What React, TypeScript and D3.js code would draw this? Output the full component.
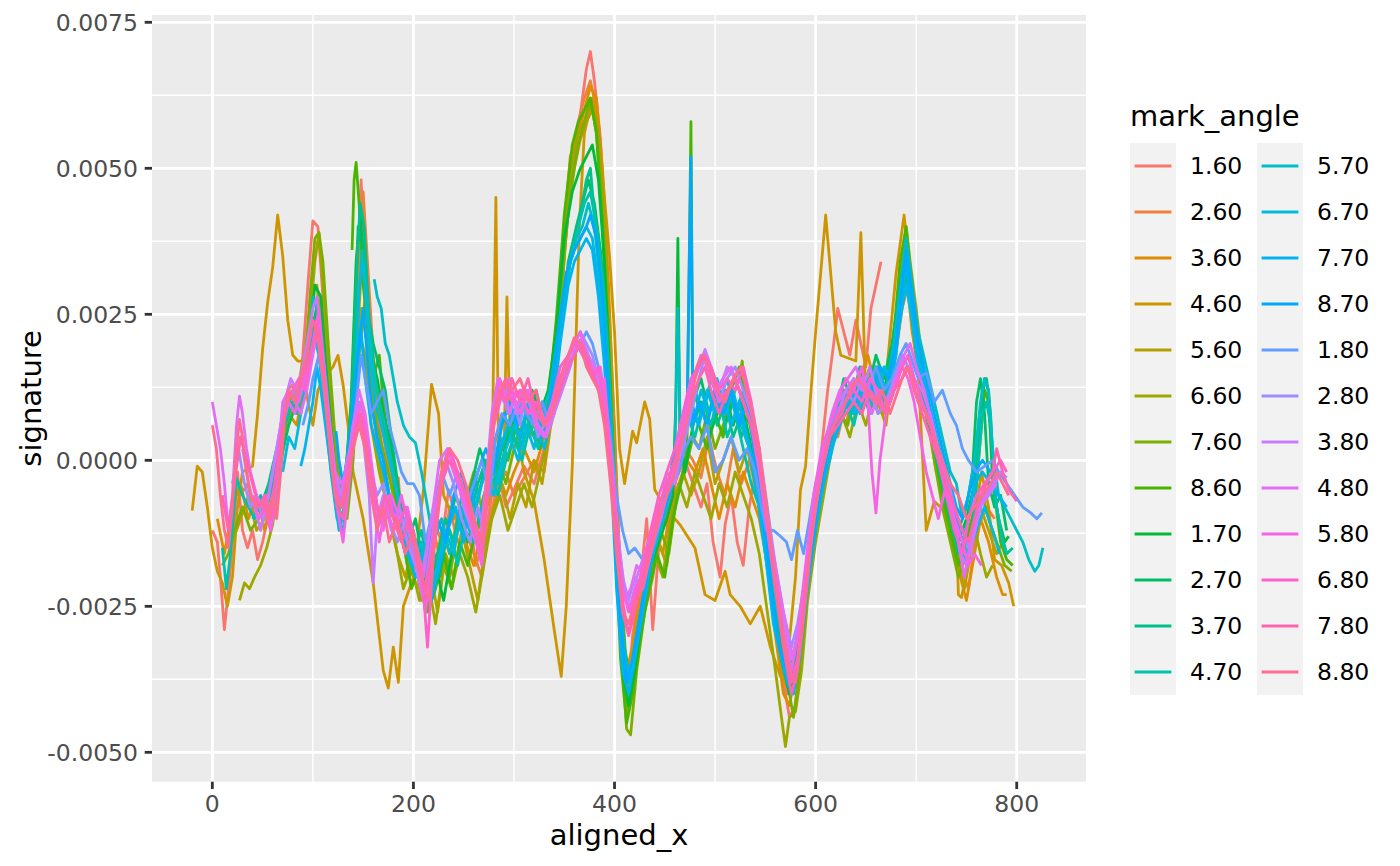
import React from 'react';
import * as d3 from 'd3';

// signature values are in units of 1e-4, stored flat as [x, v, x, v, ...]
const s160 = [0,-12, 5,-14, 8,-20, 12,-29, 16,-22, 20,-15, 25,-2, 30,-12, 35,-15, 40,-12, 45,-17, 50,-14, 55,-10, 60,-8, 65,-2, 70,6, 75,12, 80,13, 85,10, 90,18, 95,30, 100,41, 105,40, 110,28, 115,16, 120,4, 125,-8, 130,-5, 135,2, 140,10, 145,35, 148,48, 152,30, 158,12, 165,8, 170,0, 178,-8, 185,-3, 190,-15, 198,-12, 205,-20, 212,-18, 220,-10, 228,-14, 235,-5, 245,-12, 255,-8, 262,-18, 270,-14, 278,-6, 285,-3, 292,-8, 300,-5, 310,-1, 320,-4, 330,2, 340,8, 350,35, 358,50, 365,58, 372,67, 376,70, 380,65, 386,55, 392,35, 398,8, 403,-15, 408,-35, 412,-42, 418,-30, 425,-22, 432,-10, 438,-29, 444,-15, 450,-10, 458,-5, 464,-2, 470,0, 478,-4, 486,-8, 492,-4, 498,-14, 505,-20, 510,-11, 516,-6, 522,-14, 528,-18, 534,-8, 540,-2, 548,-8, 555,-20, 562,-30, 568,-38, 574,-44, 580,-42, 586,-30, 592,-18, 600,-8, 606,2, 612,12, 618,20, 622,26, 628,22, 634,18, 640,24, 645,20, 650,16, 655,26, 660,30, 665,34];
const s260 = [28,-6, 35,-4, 42,-9, 50,-7, 58,-5, 65,0, 72,8, 80,10, 88,12, 95,16, 100,22, 105,28, 110,20, 116,10, 122,0, 128,-5, 135,0, 142,15, 147,42, 150,46, 155,32, 160,18, 166,10, 172,2, 180,-6, 188,-10, 196,-16, 204,-14, 212,-22, 220,-12, 228,-18, 236,-8, 244,-14, 252,-12, 260,-16, 268,-20, 276,-10, 284,-4, 292,-2, 300,-6, 310,-3, 320,0, 330,-2, 340,10, 348,30, 356,48, 364,58, 370,62, 376,65, 382,60, 388,48, 394,28, 400,6, 405,-18, 410,-34, 416,-40, 422,-28, 430,-20, 438,-14, 446,-8, 454,-12, 462,-2, 470,2, 478,0, 486,-3, 494,4, 502,-2, 510,-6, 518,2, 526,-4, 534,0, 542,-6, 550,-14, 558,-26, 566,-34, 572,-40, 578,-36, 584,-28, 590,-20, 598,-8, 606,0, 614,6, 622,4, 630,10, 638,14, 646,12, 654,16, 662,8, 670,10, 678,16, 686,26, 692,30, 698,20, 704,12, 712,6, 720,-2, 728,-6, 736,-12, 744,-18, 752,-22, 760,-12, 770,-8, 778,-10];
const s360 = [5,-10, 12,-16, 20,-8, 28,-4, 36,-10, 44,-6, 52,-12, 60,-6, 68,2, 76,8, 84,6, 92,14, 100,24, 106,20, 112,10, 120,-2, 128,-8, 136,-4, 144,20, 150,38, 156,22, 164,10, 172,4, 180,-4, 188,-12, 196,-18, 204,-22, 212,-16, 220,-20, 228,-12, 236,-16, 244,-10, 252,-14, 260,-18, 268,-12, 276,-6, 284,-2, 292,-6, 300,-2, 310,2, 320,-2, 330,4, 340,12, 348,36, 356,52, 364,56, 370,60, 376,64, 382,62, 388,50, 394,30, 400,4, 406,-20, 412,-36, 418,-32, 424,-24, 432,-18, 440,-12, 448,-16, 456,-8, 464,-4, 472,0, 480,-2, 488,2, 496,-4, 504,-10, 512,-4, 520,-8, 528,-2, 536,-6, 544,-10, 552,-18, 560,-30, 568,-40, 574,-42, 580,-36, 588,-24, 596,-12, 604,-2, 612,4, 620,8, 628,12, 636,10, 644,14, 652,18, 660,12, 668,8, 676,14, 684,24, 690,32, 696,22, 704,14, 712,8, 720,2, 728,-6, 736,-14, 744,-20, 750,-24, 756,-18, 764,-10, 772,-14, 780,-20, 786,-23, 790,-23];
const s460 = [-20,-8.6, -15,-1, -10,-2, -5,-8, 0,-15, 5,-19, 10,-21, 15,-25, 20,-20, 25,-8, 30,-2, 40,-1, 45,8, 50,19, 55,27, 60,33, 65,42, 70,35, 75,24, 80,18, 85,17, 90,17, 95,10, 100,6, 105,12, 110,14, 120,16, 125,18, 130,13, 135,6, 140,-2, 150,-10, 160,-21, 170,-36, 175,-39, 180,-32, 185,-38, 190,-25, 200,-20, 210,-5, 218,13, 225,8, 230,-6, 240,-10, 250,-8, 260,-2, 270,-10, 278,-3, 282,45, 285,-5, 290,0, 293,28, 296,5, 300,7, 310,-2, 320,-7, 330,-17, 340,-29, 347,-37, 352,-25, 358,-1, 365,40, 370,56, 378,62, 385,55, 395,35, 400,22, 405,2, 410,-4, 418,5, 422,3, 430,10, 435,7, 440,-5, 450,-8, 465,-11, 480,-15, 490,-23, 500,-24, 510,-19, 515,-23, 525,-25, 535,-28, 545,-25, 555,-32, 565,-37, 570,-38, 580,-20, 585,-5, 590,-1, 595,11, 600,22, 610,42, 620,22, 625,18, 640,17, 645,39, 650,10, 660,14, 670,14, 680,32, 688,42, 695,30, 700,22, 710,-12, 718,-7, 730,-9, 740,-12, 742,-23, 745,-23.5, 752,-17.7, 758,-10, 765,-2, 772,-8, 778,-17, 785,-18, 792,-21, 797,-25];
const s560 = [20,-14, 28,-10, 36,-6, 44,-12, 52,-10, 60,-4, 68,4, 76,10, 84,12, 92,18, 98,28, 104,30, 110,20, 118,6, 126,-6, 134,-2, 142,12, 148,26, 154,20, 160,8, 168,-2, 176,-10, 184,-16, 192,-20, 200,-14, 208,-24, 216,-18, 224,-26, 232,-16, 240,-20, 248,-12, 256,-18, 264,-24, 272,-14, 280,-8, 288,-4, 296,-10, 304,-4, 312,-8, 320,0, 328,-4, 336,6, 344,20, 352,40, 360,50, 366,55, 372,58, 378,60, 384,56, 390,40, 396,18, 402,-8, 408,-30, 414,-40, 420,-34, 428,-26, 436,-20, 444,-14, 452,-18, 460,-8, 468,-2, 476,-6, 484,-2, 492,4, 500,-4, 508,0, 516,4, 524,-2, 532,2, 540,-4, 548,-12, 556,-22, 564,-32, 570,-38, 576,-40, 582,-32, 590,-20, 598,-10, 606,-4, 614,4, 622,10, 630,6, 638,12, 646,8, 654,14, 662,10, 670,6, 678,18, 684,30, 690,40, 694,34, 700,26, 708,14, 716,6, 724,-2, 732,-10, 740,-16, 748,-22, 756,-14, 764,-8, 772,-12, 780,-16, 786,-14];
const s660 = [27,-24, 32,-21, 37,-22, 42,-20, 48,-18, 54,-15, 60,-11, 66,-4, 72,4, 78,8, 84,10, 90,14, 96,22, 102,34, 106,39, 110,30, 116,16, 122,2, 128,-8, 134,-4, 140,6, 146,22, 152,18, 158,6, 166,-2, 174,-8, 182,-14, 190,-22, 198,-18, 206,-24, 214,-20, 222,-28, 230,-18, 238,-22, 246,-16, 254,-20, 262,-26, 270,-18, 278,-10, 286,-6, 294,-12, 302,-8, 310,-4, 318,-8, 326,-2, 334,4, 342,18, 350,36, 358,50, 364,56, 370,58, 376,61, 382,58, 388,46, 394,24, 400,-2, 406,-28, 412,-44, 418,-38, 424,-28, 432,-22, 440,-16, 448,-20, 456,-10, 464,-4, 472,-8, 480,-2, 488,-6, 496,-10, 504,-4, 512,-8, 520,-2, 528,-6, 536,-10, 544,-16, 552,-26, 560,-36, 566,-44, 570,-49, 574,-44, 580,-43, 586,-36, 592,-24, 600,-14, 606,-8, 612,-2, 618,4, 626,8, 634,4, 642,10, 650,6, 658,12, 666,8, 674,14, 682,26, 688,36, 694,30, 700,22, 708,12, 716,4, 724,-4, 732,-12, 740,-18, 748,-14, 756,-10, 764,-16, 770,-20, 776,-18];
const s760 = [10,-18, 16,-16, 22,-12, 30,-8, 38,-12, 46,-10, 54,-6, 62,0, 70,6, 78,10, 86,8, 92,16, 98,30, 102,38, 106,39, 110,34, 116,18, 122,4, 128,-6, 134,-10, 140,0, 146,18, 152,28, 158,14, 164,6, 172,0, 180,-6, 188,-12, 196,-20, 204,-16, 212,-26, 220,-22, 228,-14, 236,-20, 244,-12, 252,-8, 260,-14, 268,-10, 276,-4, 284,0, 292,-4, 300,2, 308,6, 316,4, 324,10, 332,6, 340,14, 348,32, 356,46, 364,54, 370,58, 376,62, 382,56, 388,42, 394,20, 400,-6, 406,-30, 412,-46, 416,-47, 422,-36, 430,-26, 438,-20, 446,-12, 454,-16, 462,-6, 470,-2, 478,4, 484,2, 492,8, 500,2, 508,6, 516,10, 524,14, 527,17, 532,8, 540,2, 548,-8, 556,-20, 564,-30, 572,-38, 578,-44, 584,-36, 592,-22, 600,-10, 608,-4, 616,2, 624,8, 632,6, 640,12, 648,10, 656,16, 664,12, 672,10, 680,20, 686,32, 690,38, 696,28, 702,18, 710,10, 718,0, 726,-8, 734,-14, 742,-20, 750,-16, 758,-12, 766,-6, 772,-10, 780,-14, 788,-18, 795,-19];
const s860 = [139,36, 141,48, 143,51, 146,44, 150,30, 155,22, 160,14, 166,18, 170,10, 176,2, 182,-6, 190,-14, 198,-22, 206,-18, 214,-26, 222,-22, 230,-16, 238,-22, 246,-14, 254,-18, 262,-12, 270,-6, 278,-2, 286,4, 294,0, 302,6, 310,4, 318,8, 326,2, 334,10, 342,24, 350,42, 358,54, 364,58, 370,60, 376,62, 382,56, 388,40, 394,16, 400,-10, 406,-34, 412,-45, 418,-40, 426,-30, 434,-22, 442,-16, 450,-20, 458,-10, 466,-4, 472,2, 474,30, 476,58, 478,8, 484,6, 492,2, 500,8, 508,4, 516,12, 524,16, 530,10, 538,4, 546,-6, 554,-18, 562,-28, 570,-36, 576,-40, 582,-34, 590,-22, 598,-12, 606,-4, 614,4, 622,6, 630,10, 638,8, 646,14, 654,12, 662,16, 670,10, 678,22, 684,34, 690,40, 696,30, 702,20, 710,12, 718,2, 726,-6, 734,-12, 742,-18, 750,-14, 758,-8, 764,4, 768,12, 772,10, 778,-6, 784,-14, 790,-17, 796,-18];
const s170 = [80,8, 88,12, 96,20, 102,30, 108,28, 114,14, 120,2, 126,-8, 132,-4, 138,10, 143,34, 147,42, 152,30, 158,18, 164,14, 170,8, 176,4, 182,-4, 190,-12, 198,-18, 206,-14, 214,-22, 222,-18, 230,-24, 238,-16, 246,-10, 254,-14, 262,-8, 270,-2, 278,2, 286,-2, 294,4, 302,8, 310,6, 318,12, 326,8, 334,12, 342,22, 350,38, 358,46, 366,50, 372,52, 378,54, 384,48, 390,34, 396,12, 402,-14, 408,-36, 414,-42, 420,-36, 428,-26, 436,-18, 444,-14, 452,-10, 458,-6, 461,10, 463,38, 465,4, 470,-2, 478,6, 486,10, 494,4, 502,8, 510,12, 518,6, 526,10, 534,4, 542,-4, 550,-14, 558,-26, 566,-34, 574,-40, 580,-36, 588,-24, 596,-14, 604,-6, 612,2, 620,6, 628,12, 636,10, 644,14, 652,10, 660,16, 668,12, 676,18, 684,28, 690,34, 696,26, 702,16, 710,10, 718,2, 726,-4, 734,-10, 742,-14, 750,-10, 758,-4, 764,8, 768,14, 772,12, 776,-4, 782,-10, 788,-14, 792,-13];
const s270 = [60,-6, 68,0, 76,6, 84,10, 92,14, 98,22, 104,26, 110,20, 116,8, 122,-2, 128,-6, 134,0, 140,14, 145,40, 149,38, 154,26, 160,20, 166,16, 172,12, 178,4, 186,-6, 194,-14, 202,-10, 210,-18, 218,-14, 226,-20, 234,-12, 242,-6, 250,-10, 258,-4, 266,2, 274,-2, 282,4, 290,8, 298,4, 306,10, 314,8, 322,12, 330,6, 338,10, 346,22, 354,34, 362,40, 368,44, 374,48, 380,44, 386,36, 392,24, 398,4, 404,-18, 410,-34, 416,-38, 422,-30, 430,-22, 438,-16, 446,-10, 454,-6, 462,-2, 470,4, 478,10, 486,14, 494,8, 502,12, 510,6, 518,10, 526,4, 534,8, 542,0, 550,-10, 558,-22, 566,-30, 574,-36, 580,-32, 588,-22, 596,-12, 604,-4, 612,4, 620,8, 628,14, 636,10, 644,16, 652,12, 660,18, 668,14, 676,20, 684,30, 690,36, 696,28, 702,18, 710,12, 718,4, 726,-2, 734,-8, 742,-12, 750,-8, 756,-2, 760,10, 764,14, 768,8, 772,-4, 778,-8, 784,-6, 790,-12];
const s370 = [40,-10, 48,-8, 56,-4, 64,2, 72,6, 80,10, 88,12, 96,18, 102,24, 108,22, 114,12, 120,0, 126,-8, 132,-4, 138,8, 143,30, 147,44, 151,40, 156,24, 162,14, 168,8, 176,2, 184,-6, 192,-12, 200,-16, 208,-12, 216,-20, 224,-16, 232,-10, 240,-14, 248,-6, 256,-10, 264,-4, 272,0, 280,-4, 288,2, 296,6, 304,2, 312,8, 320,4, 328,10, 336,6, 344,18, 352,30, 360,38, 366,42, 372,48, 376,50, 380,42, 386,34, 392,22, 398,4, 404,-16, 410,-32, 416,-38, 422,-32, 430,-24, 438,-16, 446,-12, 454,-6, 462,0, 470,6, 478,12, 486,8, 494,12, 502,6, 510,10, 518,4, 526,8, 534,2, 542,-6, 550,-16, 558,-26, 566,-34, 574,-38, 580,-34, 588,-24, 596,-14, 604,-6, 612,2, 620,6, 628,10, 636,8, 644,12, 652,10, 660,14, 668,10, 676,16, 684,26, 690,32, 696,24, 702,16, 710,8, 718,2, 726,-4, 734,-10, 742,-16, 750,-12, 756,-6, 762,6, 766,12, 770,14, 774,8, 778,-6, 784,-12, 790,-16, 796,-15];
const s470 = [10,-15, 14,-22, 18,-16, 24,-3, 30,-6, 36,-8, 42,-10, 48,-6, 54,-8, 60,-4, 66,2, 72,6, 78,10, 84,8, 90,14, 96,20, 100,28, 104,26, 110,16, 116,6, 122,-4, 128,-10, 134,-6, 140,6, 145,26, 149,36, 154,28, 160,16, 166,10, 172,6, 180,-2, 188,-10, 196,-14, 204,-18, 212,-14, 220,-22, 228,-16, 236,-12, 244,-18, 252,-10, 260,-14, 268,-8, 276,-2, 284,-6, 292,0, 300,4, 308,0, 316,6, 324,2, 332,8, 340,12, 348,24, 356,34, 364,40, 370,44, 376,46, 382,40, 388,32, 394,16, 400,-4, 406,-26, 412,-38, 418,-36, 424,-28, 432,-20, 440,-14, 448,-10, 456,-4, 464,2, 472,8, 480,4, 488,10, 496,6, 504,12, 512,4, 520,8, 528,2, 536,-4, 544,-8, 552,-18, 560,-28, 568,-36, 576,-40, 582,-36, 590,-24, 598,-12, 606,-4, 614,0, 622,6, 630,10, 638,6, 646,12, 654,8, 662,14, 670,10, 678,18, 686,30, 690,36, 696,28, 702,18, 710,10, 718,4, 726,-2, 734,-8, 742,-14, 750,-18, 756,-12, 762,0, 766,8, 770,10, 774,6, 780,-8, 786,-14, 790,-16];
const s570 = [161,31, 164,28, 168,26, 172,20, 176,18, 180,14, 184,10, 190,6, 196,4, 202,3, 208,-2, 214,-8, 220,-14, 228,-10, 236,-16, 244,-12, 252,-6, 260,-10, 268,-4, 276,0, 284,-4, 292,2, 300,6, 308,2, 316,8, 324,4, 332,10, 340,14, 348,26, 356,34, 362,38, 368,40, 374,44, 380,40, 386,30, 392,16, 398,0, 404,-20, 410,-34, 416,-36, 422,-30, 430,-22, 438,-14, 446,-8, 454,-4, 460,2, 463,26, 466,0, 472,6, 480,12, 488,8, 496,14, 504,10, 512,14, 520,8, 528,12, 536,6, 544,0, 552,-12, 560,-24, 568,-32, 576,-36, 582,-30, 590,-20, 598,-10, 606,-4, 614,4, 622,8, 630,12, 638,8, 646,14, 654,10, 662,16, 670,12, 678,20, 686,32, 690,38, 696,30, 702,22, 710,16, 718,10, 726,4, 734,-2, 740,-4, 746,-10, 752,-6, 758,0, 764,10, 768,14, 772,12, 776,2, 782,-6, 788,-8, 794,-10, 800,-12, 806,-14, 812,-17, 818,-19, 822,-18, 826,-15];
const s670 = [70,-2, 76,4, 82,2, 88,8, 94,14, 100,22, 106,18, 112,8, 118,-2, 124,-10, 130,-12, 136,-4, 142,10, 146,30, 150,34, 156,20, 162,10, 168,6, 176,0, 184,-6, 192,-14, 200,-18, 208,-14, 216,-22, 224,-18, 232,-12, 240,-16, 248,-8, 256,-12, 264,-6, 272,-2, 280,-6, 288,0, 296,4, 304,0, 312,6, 320,2, 328,8, 336,12, 344,22, 352,32, 360,36, 366,38, 372,40, 378,38, 384,30, 390,18, 396,2, 402,-18, 408,-32, 414,-38, 420,-32, 428,-24, 436,-16, 444,-10, 452,-6, 460,-2, 466,4, 472,10, 478,6, 486,12, 494,8, 502,14, 510,8, 518,12, 526,6, 534,2, 542,-6, 550,-16, 558,-28, 566,-34, 574,-36, 580,-32, 588,-22, 596,-12, 604,-4, 612,2, 620,6, 628,10, 636,12, 644,8, 652,14, 660,10, 668,16, 676,14, 684,24, 690,30, 696,24, 702,16, 710,10, 718,4, 726,-2, 734,-8, 740,-12, 746,-14, 752,-16, 760,-12, 768,-8, 776,-12, 783,-16];
const s770 = [88,-1, 92,2, 96,6, 100,10, 104,16, 108,12, 114,4, 120,-4, 126,-12, 132,-8, 138,0, 144,16, 148,22, 152,14, 158,6, 164,2, 170,-2, 178,-8, 186,-12, 194,-16, 202,-20, 210,-16, 218,-24, 226,-18, 234,-12, 242,-8, 250,-14, 258,-6, 266,-10, 274,-4, 282,0, 290,4, 298,8, 306,4, 314,10, 322,6, 330,2, 338,8, 346,20, 354,30, 360,34, 366,36, 372,38, 378,36, 384,28, 390,16, 396,0, 402,-22, 408,-36, 414,-40, 420,-34, 428,-26, 436,-18, 444,-12, 452,-8, 460,-2, 468,4, 476,10, 484,6, 492,12, 500,8, 508,12, 516,6, 524,10, 532,4, 540,-2, 548,-12, 556,-24, 564,-32, 572,-38, 578,-40, 584,-34, 592,-22, 600,-12, 608,-4, 616,2, 624,6, 632,10, 640,8, 648,12, 656,10, 664,14, 672,12, 680,18, 686,28, 690,34, 696,26, 702,18, 710,12, 718,6, 726,0, 734,-6, 740,-10, 746,-14, 752,-10, 758,-4, 766,-2, 774,-4, 782,-6, 790,-8];
const s870 = [123,5, 126,0, 130,-4, 134,0, 138,6, 142,14, 146,20, 150,26, 154,18, 158,10, 164,4, 170,0, 176,-6, 184,-10, 192,-16, 200,-12, 208,-20, 216,-14, 224,-10, 232,-14, 240,-6, 248,-2, 256,-8, 264,-2, 272,2, 280,-2, 288,6, 296,10, 304,6, 312,12, 320,8, 328,4, 336,10, 344,22, 352,32, 360,36, 366,38, 372,40, 376,42, 382,38, 388,28, 394,12, 400,-8, 406,-28, 412,-38, 418,-34, 426,-26, 434,-18, 442,-12, 450,-8, 458,-4, 466,2, 472,6, 474,30, 476,52, 478,6, 484,10, 492,6, 500,12, 508,8, 516,12, 524,6, 532,10, 540,0, 548,-10, 556,-22, 564,-32, 572,-36, 578,-38, 584,-32, 592,-20, 600,-10, 608,-2, 616,4, 624,8, 632,12, 640,10, 648,14, 656,12, 664,16, 672,14, 680,20, 686,30, 690,36, 696,28, 702,20, 710,14, 718,8, 726,2, 734,-4, 740,-8, 746,-10, 752,-6, 758,-2, 766,0, 774,-2, 780,-4];
const s180 = [90,6, 96,10, 100,14, 106,18, 112,12, 118,4, 124,-4, 130,-8, 136,-2, 142,8, 148,18, 152,14, 158,8, 164,10, 170,12, 176,6, 182,2, 188,-2, 194,-4, 200,-4, 206,-6, 212,-14, 220,-8, 228,-2, 236,-6, 244,-2, 252,-8, 260,-4, 268,0, 276,-6, 282,4, 288,8, 296,6, 304,10, 312,8, 320,6, 328,10, 336,6, 344,12, 352,16, 360,18, 366,20, 372,22, 378,20, 384,16, 390,12, 396,4, 402,-6, 408,-12, 414,-16, 420,-15, 428,-17, 434,-17, 440,-14, 446,-10, 452,-6, 458,-4, 464,-2, 470,2, 476,4, 484,2, 492,6, 500,-2, 508,0, 516,4, 524,0, 532,2, 540,-2, 546,-8, 551,-12, 558,-12, 565,-13, 571,-14, 576,-17, 582,-12, 588,-16, 594,-10, 600,-4, 606,0, 612,4, 620,8, 628,10, 636,12, 644,14, 652,12, 660,16, 668,12, 676,14, 684,18, 690,20, 696,17, 702,14, 710,15, 718,10, 726,12, 734,8, 740,6, 746,2, 752,0, 760,-2, 768,-1, 776,0, 782,-2, 790,-4, 798,-6, 806,-8, 814,-9, 820,-10, 825,-9];
const s280 = [20,-4, 26,2, 32,-4, 38,-8, 44,-6, 50,-10, 56,-6, 62,0, 68,6, 74,10, 80,12, 86,10, 92,14, 98,18, 104,22, 110,14, 116,4, 122,-4, 128,-8, 134,-2, 140,6, 146,10, 152,6, 158,-2, 164,-6, 170,-4, 176,-10, 184,-14, 192,-10, 200,-16, 208,-20, 216,-12, 224,-6, 232,0, 240,-4, 248,-10, 256,-14, 264,-8, 270,-12, 276,2, 282,10, 288,12, 294,8, 300,10, 306,6, 312,12, 318,8, 324,4, 330,6, 338,10, 346,14, 354,18, 360,20, 366,22, 372,20, 378,18, 384,14, 390,10, 396,2, 402,-10, 408,-20, 414,-24, 420,-20, 428,-22, 436,-16, 444,-10, 452,-6, 460,-2, 468,2, 476,8, 484,14, 490,18, 496,14, 504,10, 512,14, 520,16, 528,12, 536,8, 544,2, 552,-8, 560,-18, 568,-26, 576,-32, 582,-28, 590,-20, 598,-8, 606,0, 614,6, 622,10, 630,12, 638,10, 646,14, 654,12, 662,8, 670,10, 678,14, 686,18, 692,16, 698,12, 706,10, 714,6, 722,2, 730,-2, 738,-8, 746,-12, 754,-16, 760,-10, 768,-6, 776,-4, 784,-2, 790,-3];
const s380 = [30,2, 36,-4, 42,-8, 48,-12, 54,-8, 60,-2, 66,4, 72,10, 78,14, 84,12, 90,16, 96,22, 100,26, 104,28, 110,18, 116,8, 122,-2, 128,-6, 134,0, 140,4, 146,8, 150,4, 156,-6, 160,-21, 164,-10, 170,-6, 178,-12, 186,-8, 194,-14, 202,-18, 210,-24, 218,-14, 226,-4, 234,2, 242,-2, 250,-8, 258,-12, 266,-16, 272,-6, 278,6, 284,12, 290,10, 296,14, 302,8, 308,12, 316,10, 324,6, 332,4, 340,8, 348,12, 356,16, 362,20, 368,21, 374,18, 380,16, 386,12, 392,8, 398,-2, 404,-14, 410,-22, 416,-26, 422,-20, 430,-16, 438,-12, 446,-8, 452,-2, 460,-4, 468,4, 476,12, 484,16, 490,19, 496,16, 504,12, 512,16, 520,14, 528,10, 536,6, 544,0, 552,-10, 560,-20, 568,-28, 576,-34, 582,-30, 590,-21, 598,-10, 606,-2, 614,4, 622,8, 630,12, 638,14, 646,12, 654,16, 662,10, 670,8, 678,12, 686,16, 692,18, 698,14, 706,12, 714,8, 722,2, 730,-4, 738,-10, 744,-16, 750,-18, 756,-14, 764,-8, 772,-6, 780,-4];
const s480 = [0,10, 4,6, 8,2, 12,-4, 16,-12, 20,-6, 24,6, 27,11, 30,8, 34,2, 38,-2, 44,-6, 50,-8, 54,-6, 58,-12, 62,-8, 66,2, 70,10, 76,12, 82,10, 88,8, 94,12, 100,18, 104,22, 110,16, 116,6, 122,-2, 128,-4, 134,-2, 140,6, 146,12, 152,8, 158,0, 164,-8, 170,-12, 178,-6, 186,-10, 194,-8, 202,-14, 210,-20, 218,-10, 226,0, 234,2, 242,-2, 250,-6, 258,-10, 266,-14, 272,-4, 278,8, 284,14, 290,12, 296,8, 302,12, 308,10, 316,8, 324,10, 332,6, 340,10, 348,14, 356,18, 362,20, 368,18, 374,16, 380,14, 386,16, 392,8, 398,-4, 404,-16, 410,-24, 416,-22, 422,-18, 430,-20, 438,-14, 446,-10, 454,-4, 462,0, 470,6, 478,14, 486,18, 492,16, 500,12, 508,14, 516,16, 524,12, 532,8, 540,4, 548,-4, 556,-14, 564,-22, 572,-30, 578,-34, 584,-28, 592,-16, 600,-6, 608,2, 616,8, 624,12, 632,14, 640,16, 648,12, 656,8, 664,12, 672,10, 680,14, 688,18, 694,20, 700,16, 708,12, 716,6, 724,0, 732,-6, 740,-12, 748,-20, 754,-14, 762,-8, 770,-6, 778,-4, 784,-2];
const s580 = [40,-6, 46,-10, 52,-8, 58,-12, 64,-4, 70,6, 76,10, 82,8, 88,12, 94,16, 100,20, 106,26, 112,14, 118,2, 124,-8, 130,-14, 136,-4, 142,6, 148,10, 154,4, 160,-6, 166,-14, 172,-8, 180,-12, 188,-6, 196,-12, 204,-16, 212,-26, 220,-12, 228,-2, 236,0, 244,-4, 252,-8, 260,-12, 268,-18, 274,-4, 280,8, 286,14, 292,10, 298,12, 306,8, 314,12, 322,6, 330,4, 338,8, 346,14, 354,18, 360,20, 366,22, 372,18, 378,16, 384,12, 390,14, 396,0, 402,-12, 408,-22, 414,-26, 420,-22, 428,-20, 436,-14, 444,-8, 452,-4, 460,0, 468,6, 476,12, 484,16, 490,18, 496,14, 504,10, 512,12, 520,14, 528,10, 536,6, 544,-2, 552,-12, 560,-22, 568,-30, 576,-36, 582,-30, 590,-18, 598,-6, 606,2, 614,6, 622,10, 630,14, 638,12, 646,16, 652,10, 656,-2, 660,-9, 664,0, 670,8, 678,12, 686,16, 692,14, 698,10, 704,4, 710,-2, 716,-6, 722,-10, 730,-4, 738,-10, 746,-14, 752,-18, 758,-16, 765,-18];
const s680 = [50,-8, 56,-10, 62,-4, 68,4, 74,10, 80,12, 86,14, 92,12, 98,18, 104,24, 110,16, 116,6, 122,-4, 128,-8, 134,-2, 140,4, 146,8, 152,4, 158,-2, 164,-8, 170,-10, 176,-6, 184,-12, 192,-8, 200,-14, 208,-18, 214,-32, 220,-16, 228,-4, 236,2, 244,-2, 252,-6, 260,-10, 268,-14, 274,-6, 280,6, 286,10, 292,14, 298,10, 306,12, 314,8, 322,10, 330,6, 338,10, 346,16, 354,18, 360,20, 366,19, 372,17, 378,14, 384,16, 390,10, 396,2, 402,-10, 408,-24, 414,-30, 420,-24, 428,-18, 436,-12, 444,-6, 452,-2, 460,2, 468,8, 476,14, 484,16, 490,18, 496,16, 504,12, 512,14, 520,12, 528,16, 536,10, 544,2, 552,-10, 560,-20, 568,-30, 576,-38, 582,-34, 590,-22, 598,-10, 606,-2, 614,4, 622,8, 630,10, 638,12, 646,10, 654,14, 662,12, 670,8, 678,12, 686,16, 692,18, 698,14, 706,10, 714,6, 722,0, 730,-6, 738,-12, 746,-16, 752,-10, 760,-6, 768,-4, 776,-2, 784,0, 790,-2];
const s780 = [10,-6, 16,-12, 22,-4, 28,4, 34,0, 40,-4, 46,-8, 52,-6, 58,-10, 64,-2, 70,6, 76,12, 82,10, 88,14, 94,16, 100,20, 106,22, 112,12, 118,0, 124,-8, 130,-10, 136,-2, 142,4, 148,8, 154,2, 160,-4, 166,-10, 172,-6, 180,-10, 188,-14, 196,-10, 204,-18, 212,-22, 220,-14, 228,-4, 236,0, 244,-2, 252,-6, 260,-12, 268,-16, 274,-4, 280,6, 286,12, 292,10, 298,14, 306,10, 314,14, 322,8, 330,6, 338,8, 346,12, 354,16, 360,18, 366,20, 372,18, 378,15, 384,12, 390,8, 396,-2, 402,-14, 408,-26, 414,-30, 420,-26, 428,-20, 436,-14, 444,-8, 452,-4, 460,0, 468,4, 476,10, 484,14, 490,16, 496,12, 504,8, 512,12, 520,14, 528,10, 536,6, 544,0, 552,-10, 560,-22, 568,-32, 576,-40, 582,-36, 590,-24, 598,-10, 606,-2, 614,4, 622,6, 630,8, 638,10, 646,8, 654,12, 662,10, 670,8, 678,12, 686,14, 692,16, 698,12, 706,8, 714,4, 722,0, 730,-4, 738,-8, 746,-12, 752,-14, 758,-10, 764,-6, 770,-4, 776,-2, 780,2, 786,-2, 792,-5, 800,-7];
const s880 = [0,6, 4,2, 8,-6, 12,-12, 16,-15, 20,-8, 24,2, 27,7, 30,4, 34,-2, 38,-6, 44,-8, 50,-7, 56,-10, 60,-6, 64,-10, 68,-2, 72,8, 76,12, 82,10, 88,14, 94,18, 100,24, 104,22, 110,14, 116,4, 122,-6, 128,-8, 134,-4, 140,2, 146,6, 152,2, 158,-6, 164,-12, 170,-8, 176,-14, 184,-10, 192,-16, 200,-12, 208,-20, 216,-24, 222,-12, 228,-2, 236,2, 244,0, 252,-4, 260,-10, 268,-14, 274,-2, 280,8, 286,12, 292,14, 298,12, 306,14, 314,10, 322,12, 330,6, 338,8, 346,14, 354,18, 360,21, 366,20, 372,16, 378,14, 384,12, 390,6, 396,-4, 402,-16, 408,-26, 414,-28, 420,-24, 428,-22, 436,-16, 444,-10, 452,-6, 460,-2, 468,4, 476,10, 482,16, 488,18, 494,16, 502,12, 510,10, 518,14, 526,16, 534,10, 542,4, 550,-6, 558,-18, 566,-28, 574,-36, 580,-38, 586,-30, 594,-16, 602,-6, 610,2, 618,6, 626,8, 634,12, 642,14, 650,12, 658,10, 666,12, 674,8, 682,12, 690,16, 696,14, 702,10, 710,8, 718,4, 726,0, 734,-4, 742,-6, 750,-10, 758,-8, 766,-6, 774,-4, 780,-2, 786,-4, 792,-6];

const levels = ['1.60', '2.60', '3.60', '4.60', '5.60', '6.60', '7.60', '8.60',
  '1.70', '2.70', '3.70', '4.70', '5.70', '6.70', '7.70', '8.70',
  '1.80', '2.80', '3.80', '4.80', '5.80', '6.80', '7.80', '8.80'];
const seriesValues = [s160, s260, s360, s460, s560, s660, s760, s860,
  s170, s270, s370, s470, s570, s670, s770, s870,
  s180, s280, s380, s480, s580, s680, s780, s880];

const xBreaks = [0, 200, 400, 600, 800];
const xMinor = [100, 300, 500, 700];
const yBreaks = [-0.005, -0.0025, 0, 0.0025, 0.005, 0.0075];
const yLabels = ['-0.0050', '-0.0025', '0.0000', '0.0025', '0.0050', '0.0075'];
const yMinor = [-0.00375, -0.00125, 0.00125, 0.00375, 0.00625];

// ggplot's hue_pal: polar LUV, l = 65, c = 100
function hueColor(h: number, c = 100, l = 65) {
  const WX = 95.047, WY = 100, WZ = 108.883;
  const den = WX + 15 * WY + 3 * WZ;
  const un = 4 * WX / den, vn = 9 * WY / den;
  const rad = (h * Math.PI) / 180;
  const U = c * Math.cos(rad), V = c * Math.sin(rad);
  const Y = WY * (l > 7.999592 ? Math.pow((l + 16) / 116, 3) : l / 903.3);
  const u = U / (13 * l) + un, v = V / (13 * l) + vn;
  const X = (9 * Y * u) / (4 * v);
  const Z = -X / 3 - 5 * Y + (3 * Y) / v;
  const x = X / 100, y = Y / 100, z = Z / 100;
  const lin = [
    3.240479 * x - 1.53715 * y - 0.498535 * z,
    -0.969256 * x + 1.875992 * y + 0.041556 * z,
    0.055648 * x - 0.204043 * y + 1.057311 * z,
  ];
  const ch = lin.map(t => {
    const g = t <= 0.0031308 ? 12.92 * t : 1.055 * Math.pow(t, 1 / 2.4) - 0.055;
    return Math.round(Math.max(0, Math.min(1, g)) * 255);
  });
  return d3.rgb(ch[0], ch[1], ch[2]).formatHex();
}

const colors = levels.map((_, i) => hueColor(15 + (360 / levels.length) * i));

export default function App() {
  const W = 1400, H = 866;
  const panel = { left: 152, right: 1086, top: 15, bottom: 781.7 };
  const x = d3.scaleLinear().domain([-60, 868.9]).range([panel.left, panel.right]);
  const y = d3.scaleLinear().domain([-0.005503, 0.007625]).range([panel.bottom, panel.top]);

  const series = seriesValues.map(flat => {
    const pts: [number, number][] = [];
    for (let i = 0; i < flat.length; i += 2) pts.push([flat[i], flat[i + 1] / 10000]);
    return pts;
  });
  const line = d3.line<[number, number]>().x(d => x(d[0])).y(d => y(d[1]));

  const font = "'DejaVu Sans', Verdana, sans-serif";
  const tickCol = '#4D4D4D';
  const lw = 2.8;

  const keySize = 46;
  const legendTop = 143;
  const colX = [1130, 1257];
  const labelOff = 60;

  return (
    <svg width={W} height={H} style={{ position: 'absolute', left: 0, top: 0 }} fontFamily={font}>
      <rect x={0} y={0} width={W} height={H} fill="#FFFFFF" />
      <rect x={panel.left} y={panel.top} width={panel.right - panel.left} height={panel.bottom - panel.top} fill="#EBEBEB" />
      {xMinor.map(v => (
        <line key={'xm' + v} x1={x(v)} x2={x(v)} y1={panel.top} y2={panel.bottom} stroke="#FFFFFF" strokeWidth={1.4} />
      ))}
      {yMinor.map(v => (
        <line key={'ym' + v} x1={panel.left} x2={panel.right} y1={y(v)} y2={y(v)} stroke="#FFFFFF" strokeWidth={1.4} />
      ))}
      {xBreaks.map(v => (
        <line key={'xM' + v} x1={x(v)} x2={x(v)} y1={panel.top} y2={panel.bottom} stroke="#FFFFFF" strokeWidth={2.8} />
      ))}
      {yBreaks.map(v => (
        <line key={'yM' + v} x1={panel.left} x2={panel.right} y1={y(v)} y2={y(v)} stroke="#FFFFFF" strokeWidth={2.8} />
      ))}

      {series.map((pts, i) => (
        <path key={levels[i]} d={line(pts) || ''} fill="none" stroke={colors[i]} strokeWidth={lw} strokeLinejoin="round" strokeLinecap="butt" />
      ))}

      {/* axes */}
      {xBreaks.map(v => (
        <g key={'xt' + v}>
          <line x1={x(v)} x2={x(v)} y1={panel.bottom} y2={panel.bottom + 7.3} stroke="#333333" strokeWidth={2.8} />
          <text x={x(v)} y={812} textAnchor="middle" fontSize={23.5} fill={tickCol}>{v}</text>
        </g>
      ))}
      {yBreaks.map((v, i) => (
        <g key={'yt' + v}>
          <line x1={panel.left - 7.3} x2={panel.left} y1={y(v)} y2={y(v)} stroke="#333333" strokeWidth={2.8} />
          <text x={138} y={y(v)} dy="0.36em" textAnchor="end" fontSize={23.5} fill={tickCol}>{yLabels[i]}</text>
        </g>
      ))}
      <text x={(panel.left + panel.right) / 2} y={845} textAnchor="middle" fontSize={29} fill="#000000">aligned_x</text>
      <text transform={`translate(41,${(panel.top + panel.bottom) / 2}) rotate(-90)`} textAnchor="middle" fontSize={29} fill="#000000">signature</text>

      {/* legend */}
      <text x={1130} y={126} fontSize={29} fill="#000000">mark_angle</text>
      {levels.map((lab, i) => {
        const col = Math.floor(i / 12);
        const row = i % 12;
        const kx = colX[col];
        const ky = legendTop + row * keySize;
        return (
          <g key={'lg' + lab}>
            <rect x={kx} y={ky} width={keySize} height={keySize} fill="#F2F2F2" />
            <line x1={kx + 4.6} x2={kx + keySize - 4.6} y1={ky + keySize / 2} y2={ky + keySize / 2} stroke={colors[i]} strokeWidth={lw} />
            <text x={kx + labelOff} y={ky + keySize / 2} dy="0.36em" fontSize={23.5} fill="#000000">{lab}</text>
          </g>
        );
      })}
    </svg>
  );
}
